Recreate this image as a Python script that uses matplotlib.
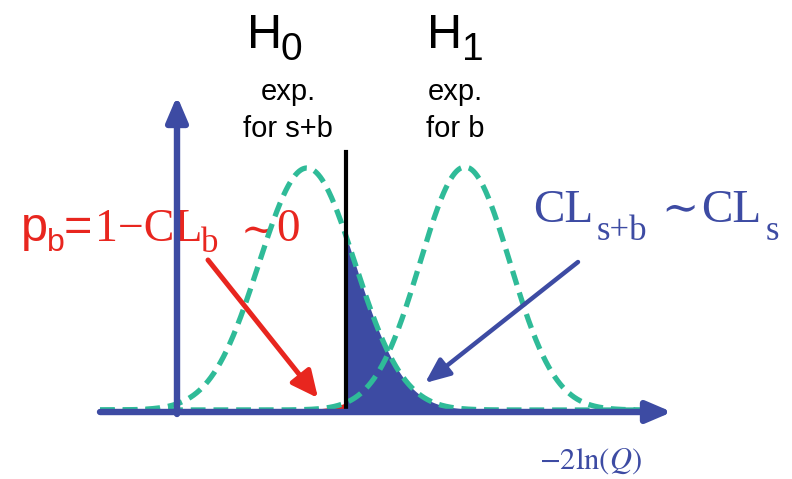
import numpy as np
import matplotlib
matplotlib.use("Agg")
import matplotlib.pyplot as plt

# Hypothesis distributions of the test statistic (drawing units along -2ln(Q))
hypotheses = ["s+b", "b"]
dist_means = [307, 465]
dist_sigmas = [48, 45]
dist_peaks = [242, 243]
observed_cut = 346

W, H = 792, 479
BLUE = "#3D4BA3"
TEAL = "#2FBB98"
RED = "#E8261F"
BASE = 410
SANS = ["Liberation Sans", "DejaVu Sans"]
SERIF = ["Liberation Serif", "DejaVu Serif"]

plt.rcParams["mathtext.fontset"] = "stix"

fig = plt.figure(figsize=(W / 100, H / 100), dpi=100)
ax = fig.add_axes([0, 0, 1, 1])
ax.set_xlim(0, W)
ax.set_ylim(H, 0)
ax.axis("off")

x = np.union1d(np.linspace(100, 650, 1400), [observed_cut])


def density(mu, sig, peak):
    return peak * np.exp(-0.5 * ((x - mu) / sig) ** 2)


curves = [density(m, s, p) for m, s, p in zip(dist_means, dist_sigmas, dist_peaks)]
sb, b = curves

# tail areas on either side of the observed value
right = x >= observed_cut
left = x <= observed_cut
ax.fill_between(x[right], BASE, BASE - sb[right], color=BLUE, lw=0, zorder=2)
ax.fill_between(x[left], BASE, BASE - b[left], color=RED, lw=0, zorder=2)

for c in curves:
    ax.plot(x, BASE - c, color=TEAL, lw=3.8, dashes=(2.8, 1.5),
            dash_capstyle="butt", zorder=4)

# observed value
ax.plot([observed_cut, observed_cut], [BASE + 2, 152], color="black", lw=3, zorder=5)

# coordinate axes
axis_style = dict(arrowstyle="-|>,head_length=0.75,head_width=0.32", mutation_scale=20,
                  lw=4.6, color=BLUE, shrinkA=0, shrinkB=0)
ax.annotate("", xy=(672, 412), xytext=(100, 412), arrowprops=axis_style, zorder=6)
ax.annotate("", xy=(177, 96), xytext=(177, 414), arrowprops=axis_style, zorder=6)

# pointer arrows
ax.annotate("", xy=(318, 398), xytext=(208, 260),
            arrowprops=dict(arrowstyle="-|>,head_length=0.8,head_width=0.38",
                            mutation_scale=20, lw=3.6, color=RED,
                            shrinkA=0, shrinkB=0), zorder=7)
ax.annotate("", xy=(425, 383), xytext=(578, 262),
            arrowprops=dict(arrowstyle="-|>,head_length=0.75,head_width=0.32",
                            mutation_scale=20, lw=3.2, color=BLUE,
                            shrinkA=0, shrinkB=0), zorder=7)

# hypothesis headers
ax.text(247, 48, "H", family=SANS, fontsize=35, ha="left", va="baseline")
ax.text(280, 60, "0", family=SANS, fontsize=28, ha="left", va="baseline")
ax.text(427, 48, "H", family=SANS, fontsize=35, ha="left", va="baseline")
ax.text(462, 60, "1", family=SANS, fontsize=28, ha="left", va="baseline")

ax.text(288, 100, "exp.", family=SANS, fontsize=21, ha="center", va="baseline")
ax.text(288, 137, "for s+b", family=SANS, fontsize=21, ha="center", va="baseline")
ax.text(455, 100, "exp.", family=SANS, fontsize=21, ha="center", va="baseline")
ax.text(455, 137, "for b", family=SANS, fontsize=21, ha="center", va="baseline")

# p-value label (red)
ax.text(21, 241, "p", family=SANS, fontsize=35, color=RED, ha="left", va="baseline")
ax.text(47, 251, "b", family=SANS, fontsize=23, color=RED, ha="left", va="baseline")
ax.text(64, 241, "=", family=SANS, fontsize=35, color=RED, ha="left", va="baseline")
ax.text(95, 241, "1\u2212CL", family=SERIF, fontsize=33, color=RED, ha="left", va="baseline")
ax.text(201, 252, "b", family=SERIF, fontsize=25, color=RED, ha="left", va="baseline")
ax.text(241, 243, "\u223c", family=SERIF, fontsize=30, color=RED, ha="left", va="baseline")
ax.text(276, 241, "0", family=SERIF, fontsize=34, color=RED, ha="left", va="baseline")

# confidence-level label (blue)
ax.text(533, 222, "CL", family=SERIF, fontsize=34, color=BLUE, ha="left", va="baseline")
ax.text(597, 240, "s+b", family=SERIF, fontsize=25, color=BLUE, ha="left", va="baseline")
ax.text(661, 222, "\u223c", family=SERIF, fontsize=32, color=BLUE, ha="left", va="baseline")
ax.text(701, 222, "CL", family=SERIF, fontsize=34, color=BLUE, ha="left", va="baseline")
ax.text(766, 240, "s", family=SERIF, fontsize=25, color=BLUE, ha="left", va="baseline")

# axis title
ax.text(590, 469, r"$-2\ln(Q)$", fontsize=22, color=BLUE, ha="center", va="baseline")

fig.savefig("out.png", dpi=100)
